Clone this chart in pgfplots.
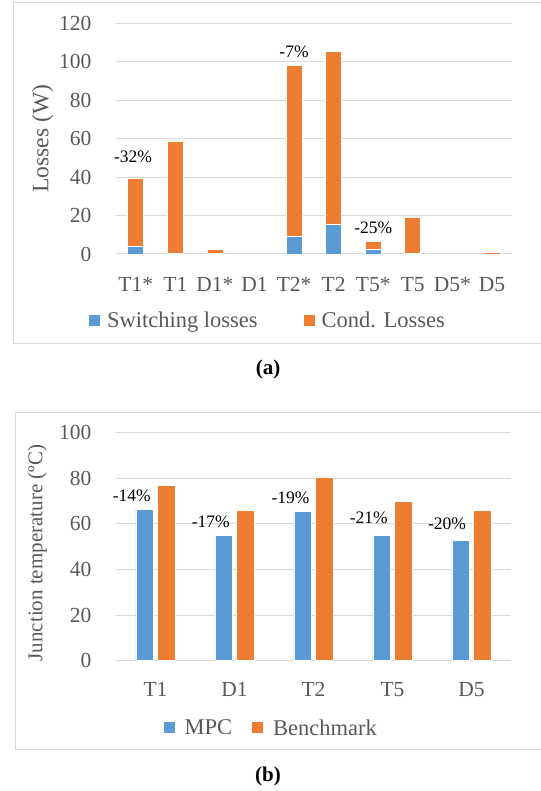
\documentclass[border=0pt]{standalone}
\usepackage{pgfplots}
\pgfplotsset{compat=1.18}
\usepackage{fontspec}
\setmainfont{Liberation Serif}

\definecolor{sw}{HTML}{5B9BD5}
\definecolor{cd}{HTML}{ED7D31}
\definecolor{gridc}{HTML}{D9D9D9}
\definecolor{txt}{HTML}{595959}
\definecolor{framec}{HTML}{D9D9D9}

\tikzset{pct/.style={font=\fontsize{17.5}{20}\selectfont, text=black}}

\pgfplotsset{
  common/.style={
    scale only axis,
    clip=false,
    axis line style={draw=none},
    major tick length=0pt,
    tick style={draw=none},
    ymajorgrids=true,
    y grid style={draw=gridc, line width=1pt},
    tick label style={font=\fontsize{21.5}{24}\selectfont, text=txt},
    /pgf/number format/assume math mode=true,
    yticklabel style={xshift=-21pt},
    xtick=data,
    legend style={draw=none, fill=none, font=\fontsize{22.5}{25}\selectfont, text=txt,
      legend columns=2, anchor=center,
      /tikz/every odd column/.append style={column sep=5pt}},
    every axis plot/.append style={draw=white, line width=0.6pt},
  },
  sqlegend/.style={
    legend image code/.code={\fill[##1, draw=none] (0pt,-5.5pt) rectangle (11pt,5.5pt);},
  },
}

\begin{document}
\begin{tikzpicture}[x=1pt,y=1pt]
\useasboundingbox (0,0) rectangle (540,791);

% outer frames (open on the right edge)
\draw[framec, line width=1pt] (545,788) -- (13,788) -- (13,447) -- (545,447);
\draw[framec, line width=1pt] (545,378) -- (15,378) -- (15,41) -- (545,41);

% (a) losses per device
\begin{axis}[common,
  at={(116pt,537pt)}, anchor=south west,
  width=395.7pt, height=230.7pt,
  ybar stacked, bar width=16pt, sqlegend,
  xmajorgrids=false,
  xmin=-0.5, xmax=9.5, ymin=0, ymax=120,
  ytick={0,20,...,120},
  xticklabels={T1*,T1,D1*,D1,T2*,T2,T5*,T5,D5*,D5},
  xticklabel style={yshift=-19.5pt},
  ylabel={Losses (W)},
  ylabel style={at={(axis description cs:-0.185,0.5)}, anchor=center,
    font=\fontsize{23.5}{26}\selectfont, text=txt},
  legend style={at={(axis description cs:0.384,-0.29)},
    /tikz/every even column/.append style={column sep=44pt}},
]
\addplot[fill=sw] coordinates {(0,4.2) (1,0.3) (2,0.5) (3,0) (4,9) (5,15.6) (6,2.3) (7,0.2) (8,0) (9,0)};
\addplot[fill=cd] coordinates {(0,35.4) (1,58.5) (2,2.0) (3,0) (4,88.9) (5,89.8) (6,4.4) (7,19.1) (8,0) (9,0.9)};
\legend{Switching losses, Cond. Losses}
\node[pct] at (axis cs:-0.07,50.4) {-32\%};
\node[pct] at (axis cs:4,105) {-7\%};
\node[pct] at (axis cs:6,13.5) {-25\%};
\end{axis}

% (b) junction temperature
\begin{axis}[common,
  at={(116pt,130.3pt)}, anchor=south west,
  width=395pt, height=228pt,
  ybar=4.4pt, bar width=17.5pt, sqlegend,
  xmajorgrids=false,
  xmin=-0.5, xmax=4.5, ymin=0, ymax=100,
  ytick={0,20,...,100},
  xticklabels={T1,D1,T2,T5,D5},
  xticklabel style={yshift=-18pt},
  ylabel={Junction temperature (ºC)},
  ylabel style={at={(axis description cs:-0.199,0.472)}, anchor=center,
    font=\fontsize{21}{24}\selectfont, text=txt},
  legend style={at={(axis description cs:0.393,-0.295)},
    /tikz/every odd column/.append style={column sep=8pt},
    /tikz/every even column/.append style={column sep=18pt}},
]
\addplot[fill=sw] coordinates {(0,66.5) (1,55.0) (2,65.5) (3,55.0) (4,52.9)};
\addplot[fill=cd] coordinates {(0,76.8) (1,65.8) (2,80.6) (3,70.0) (4,65.8)};
\legend{MPC, Benchmark}
\node[pct] at (axis cs:-0.3,72.2) {-14\%};
\node[pct] at (axis cs:0.70,61.0) {-17\%};
\node[pct] at (axis cs:1.71,71.4) {-19\%};
\node[pct] at (axis cs:2.70,62.6) {-21\%};
\node[pct] at (axis cs:3.69,60.0) {-20\%};
\end{axis}

\node[font=\fontsize{21}{24}\selectfont\bfseries] at (268,422) {(a)};
\node[font=\fontsize{21}{24}\selectfont\bfseries] at (268,15) {(b)};
\end{tikzpicture}
\end{document}
